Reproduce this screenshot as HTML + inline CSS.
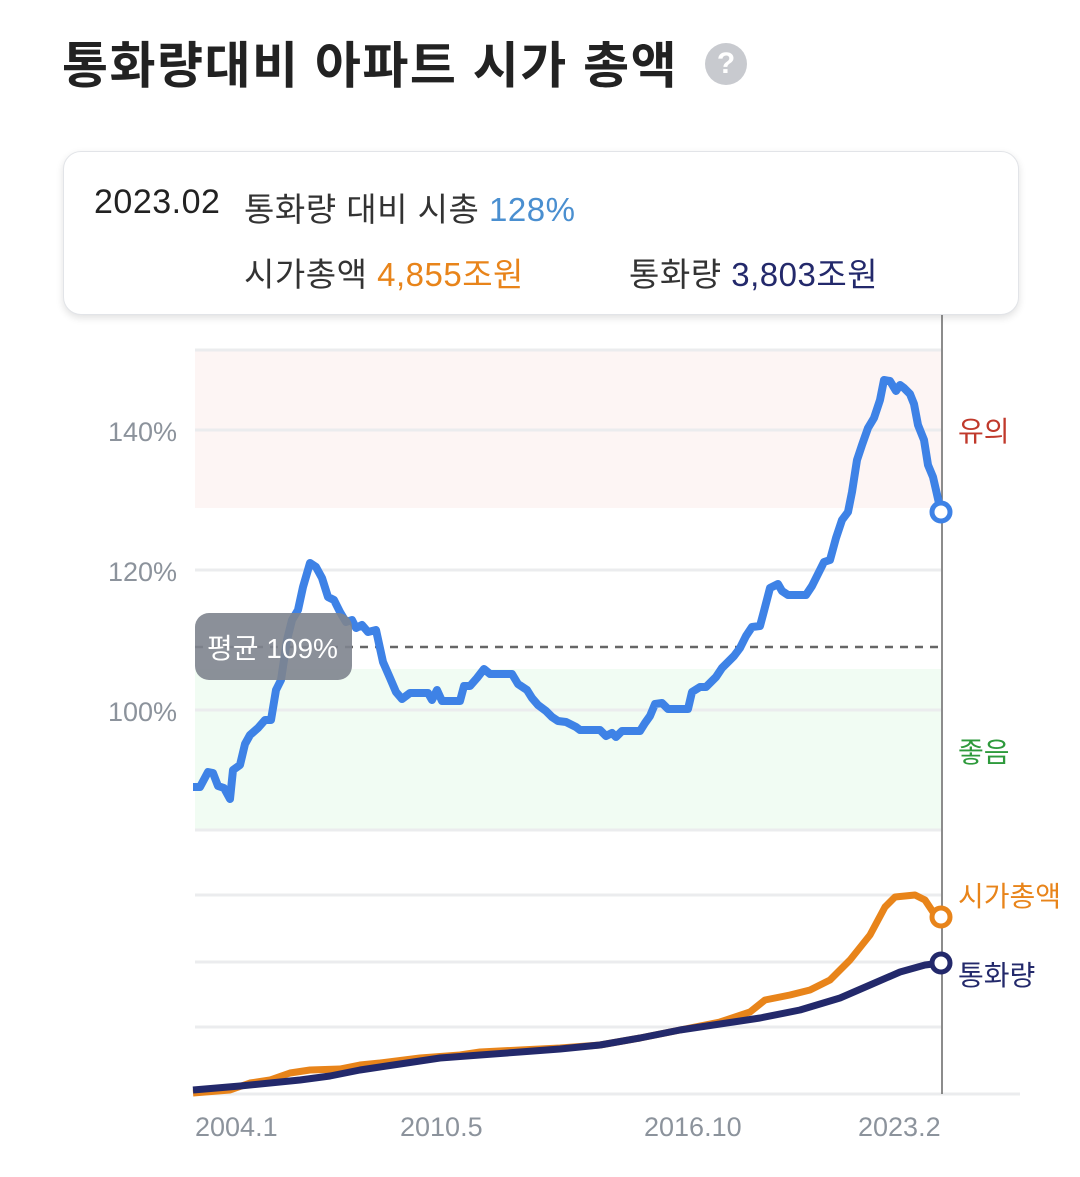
<!DOCTYPE html>
<html><head><meta charset="utf-8"><style>
body{margin:0;background:#fff;width:1080px;height:1177px;overflow:hidden;font-family:"Liberation Sans","Noto Sans CJK KR",sans-serif;}
.t{position:absolute;left:62px;top:26px;font-size:50px;font-weight:bold;color:#222;letter-spacing:1.5px}
.q{position:absolute;left:705px;top:43px;width:42px;height:42px;border-radius:50%;background:#c8cacf;color:#fff;font-size:30px;font-weight:bold;text-align:center;line-height:42px}
.box{position:absolute;left:63px;top:151px;width:954px;height:162px;border:1px solid #e2e4e8;border-radius:18px;box-shadow:0 3px 8px rgba(0,0,0,0.12);background:#fff}
.s{position:absolute;font-size:33px;color:#333;white-space:nowrap;letter-spacing:0.5px}
</style></head><body>
<div class="t">통화량대비 아파트 시가 총액</div>
<div class="q">?</div>
<div class="box">
<div class="s" style="left:30px;top:31px;color:#222;font-size:34px">2023.02</div>
<div class="s" style="left:180px;top:31px">통화량 대비 시총 <span style="color:#4a8fd0">128%</span></div>
<div class="s" style="left:180px;top:96px">시가총액 <span style="color:#e8841a">4,855조원</span></div>
<div class="s" style="left:565px;top:96px">통화량 <span style="color:#23296b">3,803조원</span></div>
</div>
<svg width="1080" height="1177" style="position:absolute;left:0;top:0" font-family="Liberation Sans, Noto Sans CJK KR, sans-serif">
<rect x="195" y="350" width="746" height="158" fill="#fdf5f4"/>
<rect x="195" y="669" width="746" height="161" fill="#f1fcf3"/>
<g stroke="#ebecee" stroke-width="3">
<line x1="195" y1="350" x2="941" y2="350"/><line x1="195" y1="430" x2="941" y2="430"/>
<line x1="195" y1="570" x2="941" y2="570"/><line x1="195" y1="710" x2="941" y2="710"/>
<line x1="195" y1="830" x2="941" y2="830"/>
<line x1="195" y1="895" x2="941" y2="895"/><line x1="195" y1="962" x2="941" y2="962"/>
<line x1="195" y1="1027" x2="941" y2="1027"/><line x1="195" y1="1094" x2="1020" y2="1094"/>
</g>
<line x1="942" y1="315" x2="942" y2="1094" stroke="#666" stroke-width="1.5"/>
<line x1="195" y1="647" x2="941" y2="647" stroke="#666" stroke-width="2.5" stroke-dasharray="8,7"/>
<g font-size="27" fill="#8c939c">
<text x="108" y="441">140%</text><text x="108" y="581">120%</text><text x="108" y="721">100%</text>
<text x="195" y="1136">2004.1</text><text x="400" y="1136">2010.5</text><text x="644" y="1136">2016.10</text><text x="858" y="1136">2023.2</text>
</g>
<text x="958" y="441" font-size="28" fill="#c0392b">유의</text>
<text x="958" y="762" font-size="28" fill="#2e9a3c">좋음</text>
<text x="958" y="906" font-size="28" fill="#e8841a">시가총액</text>
<text x="958" y="985" font-size="28" fill="#23296b">통화량</text>
<polyline fill="none" stroke="#3e82e6" stroke-width="8" stroke-linejoin="round" points="193,787 200,787 208,772 213,773 218,786 224,788 230,799 233,770 240,765 245,744 250,735 258,728 265,720 271,720 276,690 281,680 287,640 292,620 298,610 303,587 310,563 316,567 322,578 328,597 334,600 340,612 346,622 352,620 356,628 362,625 368,632 376,630 383,662 390,678 396,692 402,699 410,693 428,693 432,700 437,690 442,701 460,701 464,686 470,686 477,678 484,669 490,674 512,674 518,684 527,690 532,698 538,705 546,711 552,717 558,721 566,722 576,727 580,730 600,730 606,736 612,733 616,737 622,731 640,731 645,723 650,716 655,704 662,703 668,709 688,709 692,692 700,687 706,687 710,683 716,677 722,668 728,662 734,656 740,648 746,636 752,627 760,626 764,611 770,588 778,584 782,591 788,595 806,595 812,586 818,574 824,562 830,560 836,538 842,520 848,512 852,492 857,460 862,445 868,428 874,418 880,400 884,380 890,381 896,391 900,385 904,388 910,394 914,404 918,425 924,440 928,465 933,477 936,490 941,512"/>
<rect x="195" y="613" width="157" height="67" rx="14" fill="#7e848e" opacity="0.9"/>
<text x="207" y="658" font-size="28" fill="#fff">평균 109%</text>
<polyline fill="none" stroke="#e8841a" stroke-width="7" stroke-linejoin="round" points="193,1093 230,1090 250,1083 270,1080 290,1073 310,1070 340,1069 360,1065 380,1063 420,1058 460,1055 480,1052 520,1050 560,1048 600,1045 640,1038 690,1028 720,1022 750,1012 765,1000 790,995 810,990 830,980 850,960 870,935 885,907 895,897 915,895 925,900 935,915 941,917"/>
<polyline fill="none" stroke="#23296b" stroke-width="7" stroke-linejoin="round" points="193,1090 240,1086 270,1083 300,1080 330,1076 360,1070 400,1064 440,1058 480,1055 520,1052 560,1049 600,1045 640,1038 680,1030 720,1024 760,1018 800,1010 840,998 870,985 900,972 925,965 941,963"/>
<circle cx="941" cy="512" r="9" fill="#fff" stroke="#3e82e6" stroke-width="5"/>
<circle cx="941" cy="917" r="9" fill="#fff" stroke="#e8841a" stroke-width="5"/>
<circle cx="941" cy="963" r="9" fill="#fff" stroke="#23296b" stroke-width="5"/>
</svg>
</body></html>
